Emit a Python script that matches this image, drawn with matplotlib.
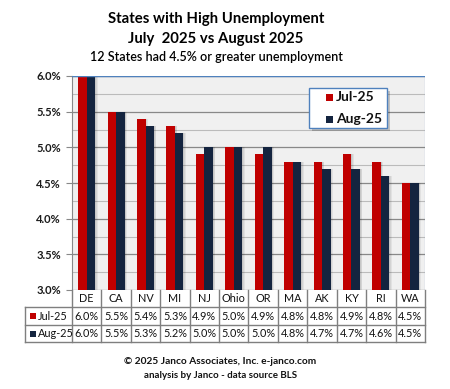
import matplotlib
matplotlib.use("Agg")
import matplotlib.pyplot as plt
from matplotlib.lines import Line2D
from matplotlib.patches import Rectangle
import numpy as np

states = ["DE", "CA", "NV", "MI", "NJ", "Ohio", "OR", "MA", "AK", "KY", "RI", "WA"]
jul25 = [6.0, 5.5, 5.4, 5.3, 4.9, 5.0, 4.9, 4.8, 4.8, 4.9, 4.8, 4.5]
aug25 = [6.0, 5.5, 5.3, 5.2, 5.0, 5.0, 5.0, 4.8, 4.7, 4.7, 4.6, 4.5]
series_names = ["Jul-25", "Aug-25"]
yticks = [3.0, 3.5, 4.0, 4.5, 5.0, 5.5, 6.0]

RED = "#c00000"
NAVY = "#14243f"
FONT = ["Lato", "DejaVu Sans"]
plt.rcParams["font.family"] = FONT

W, H = 450, 389
fig = plt.figure(figsize=(W / 100, H / 100), dpi=100)
fig.patch.set_facecolor("white")

def fx(px):
    return px / W

def fy(py):
    return 1 - py / H

L, R, T, B = 72, 425, 76, 290
ax = fig.add_axes([fx(L), fy(B), fx(R) - fx(L), fy(T) - fy(B)])
ax.set_facecolor("#f0f0f0")
n = len(states)
x = np.arange(n)
bw = 0.29
# shadows
for vals, off in ((jul25, -bw / 2), (aug25, bw / 2)):
    for s in range(3):
        ax.bar(x + off + 0.03 + s * 0.025, np.array(vals) - 3.0, bw, bottom=3.0,
               color="#000000", alpha=0.06, zorder=2, linewidth=0)
ax.bar(x - bw / 2, np.array(jul25) - 3.0, bw, bottom=3.0, color=RED, zorder=3, linewidth=0)
ax.bar(x + bw / 2, np.array(aug25) - 3.0, bw, bottom=3.0, color=NAVY, zorder=3, linewidth=0)
ax.set_xlim(-0.5, n - 0.5)
ax.set_ylim(3.0, 6.0)
ax.set_yticks(yticks)
ax.set_yticklabels([f"{v:.1f}%" for v in yticks], fontsize=8, fontweight="bold", color="#1a1a1a")
ax.set_yticks(np.arange(3.25, 6.0, 0.5), minor=True)
ax.yaxis.grid(True, which="major", color="#888888", linewidth=0.9, zorder=1)
ax.yaxis.grid(True, which="minor", color="#bbbbbb", linewidth=0.8, zorder=1)
ax.set_axisbelow(True)
ax.set_xticks([])
ax.tick_params(axis="y", which="major", length=4, color="#888888", pad=4)
ax.tick_params(axis="y", which="minor", length=0)
for sp in ("top", "right"):
    ax.spines[sp].set_visible(False)
ax.spines["bottom"].set_visible(False)
ax.spines["left"].set_color("#888888")
ax.axhline(6.0, color="#4f81bd", linewidth=1.0, zorder=4)
ax.axvline(n - 0.5, color="#4f81bd", linewidth=0.8, zorder=4)

# Legend
lx0, ly0, lx1, ly1 = 309, 88, 387, 128
fig.patches.append(Rectangle((fx(lx0 + 3), fy(ly1 + 3)), fx(lx1) - fx(lx0), fy(ly0) - fy(ly1),
                             transform=fig.transFigure, facecolor="#000000", alpha=0.2,
                             edgecolor="none", zorder=5))
fig.patches.append(Rectangle((fx(lx0), fy(ly1)), fx(lx1) - fx(lx0), fy(ly0) - fy(ly1),
                             transform=fig.transFigure, facecolor="white",
                             edgecolor="#4f81bd", linewidth=1.0, zorder=6))
for i, (name, col) in enumerate(zip(series_names, (RED, NAVY))):
    yy = 97 + i * 22
    fig.patches.append(Rectangle((fx(326), fy(yy + 4)), fx(7), 7 / H, transform=fig.transFigure,
                                 facecolor=col, edgecolor="none", zorder=7))
    fig.text(fx(336), fy(yy), name, fontsize=10, fontweight="bold", color="#111111",
             ha="left", va="center", zorder=7)

# Data table
cw = (R - L) / n
rows_y = [290, 307, 325, 342]
tx0 = 25
lc = "#7f7f7f"
def hline(y, x0, x1):
    fig.add_artist(Line2D([fx(x0), fx(x1)], [fy(y), fy(y)], color=lc, linewidth=1.0))
def vline(xp, y0, y1):
    fig.add_artist(Line2D([fx(xp), fx(xp)], [fy(y0), fy(y1)], color=lc, linewidth=1.0))
hline(rows_y[1], tx0, R)
hline(rows_y[2], tx0, R)
hline(rows_y[3], tx0, R)
vline(tx0, rows_y[1], rows_y[3])
for i in range(n + 1):
    vline(L + i * cw, rows_y[0], rows_y[3])
tfs = 7.8
for i, s in enumerate(states):
    cx = L + (i + 0.5) * cw
    fig.text(fx(cx), fy((rows_y[0] + rows_y[1]) / 2), s, fontsize=tfs, ha="center", va="center", color="#111111")
    fig.text(fx(cx), fy((rows_y[1] + rows_y[2]) / 2), f"{jul25[i]:.1f}%", fontsize=tfs, ha="center", va="center", color="#111111")
    fig.text(fx(cx), fy((rows_y[2] + rows_y[3]) / 2), f"{aug25[i]:.1f}%", fontsize=tfs, ha="center", va="center", color="#111111")
for r, (name, col) in enumerate(zip(series_names, (RED, NAVY))):
    cy = (rows_y[r + 1] + rows_y[r + 2]) / 2
    fig.patches.append(Rectangle((fx(30), fy(cy + 3)), fx(6), 6 / H, transform=fig.transFigure,
                                 facecolor=col, edgecolor="none"))
    fig.text(fx(38), fy(cy), name, fontsize=tfs, ha="left", va="center", color="#111111")

# Titles
fig.text(fx(216), fy(19), "States with High Unemployment", fontsize=10.7, fontweight="bold",
         ha="center", va="center", color="#000000")
fig.text(fx(216), fy(39), "July  2025 vs August 2025", fontsize=10.7, fontweight="bold",
         ha="center", va="center", color="#000000")
fig.text(fx(216), fy(57), "12 States had 4.5% or greater unemployment", fontsize=9,
         fontweight="semibold", ha="center", va="center", color="#000000")
fig.text(fx(220), fy(362), "\u00a9 2025 Janco Associates, Inc. e-janco.com", fontsize=7.3,
         fontweight="bold", ha="center", va="center", color="#111111")
fig.text(fx(221), fy(375), "analysis by Janco - data source BLS", fontsize=7,
         fontweight="bold", ha="center", va="center", color="#111111")

fig.savefig("out.png", dpi=100, facecolor="white")
